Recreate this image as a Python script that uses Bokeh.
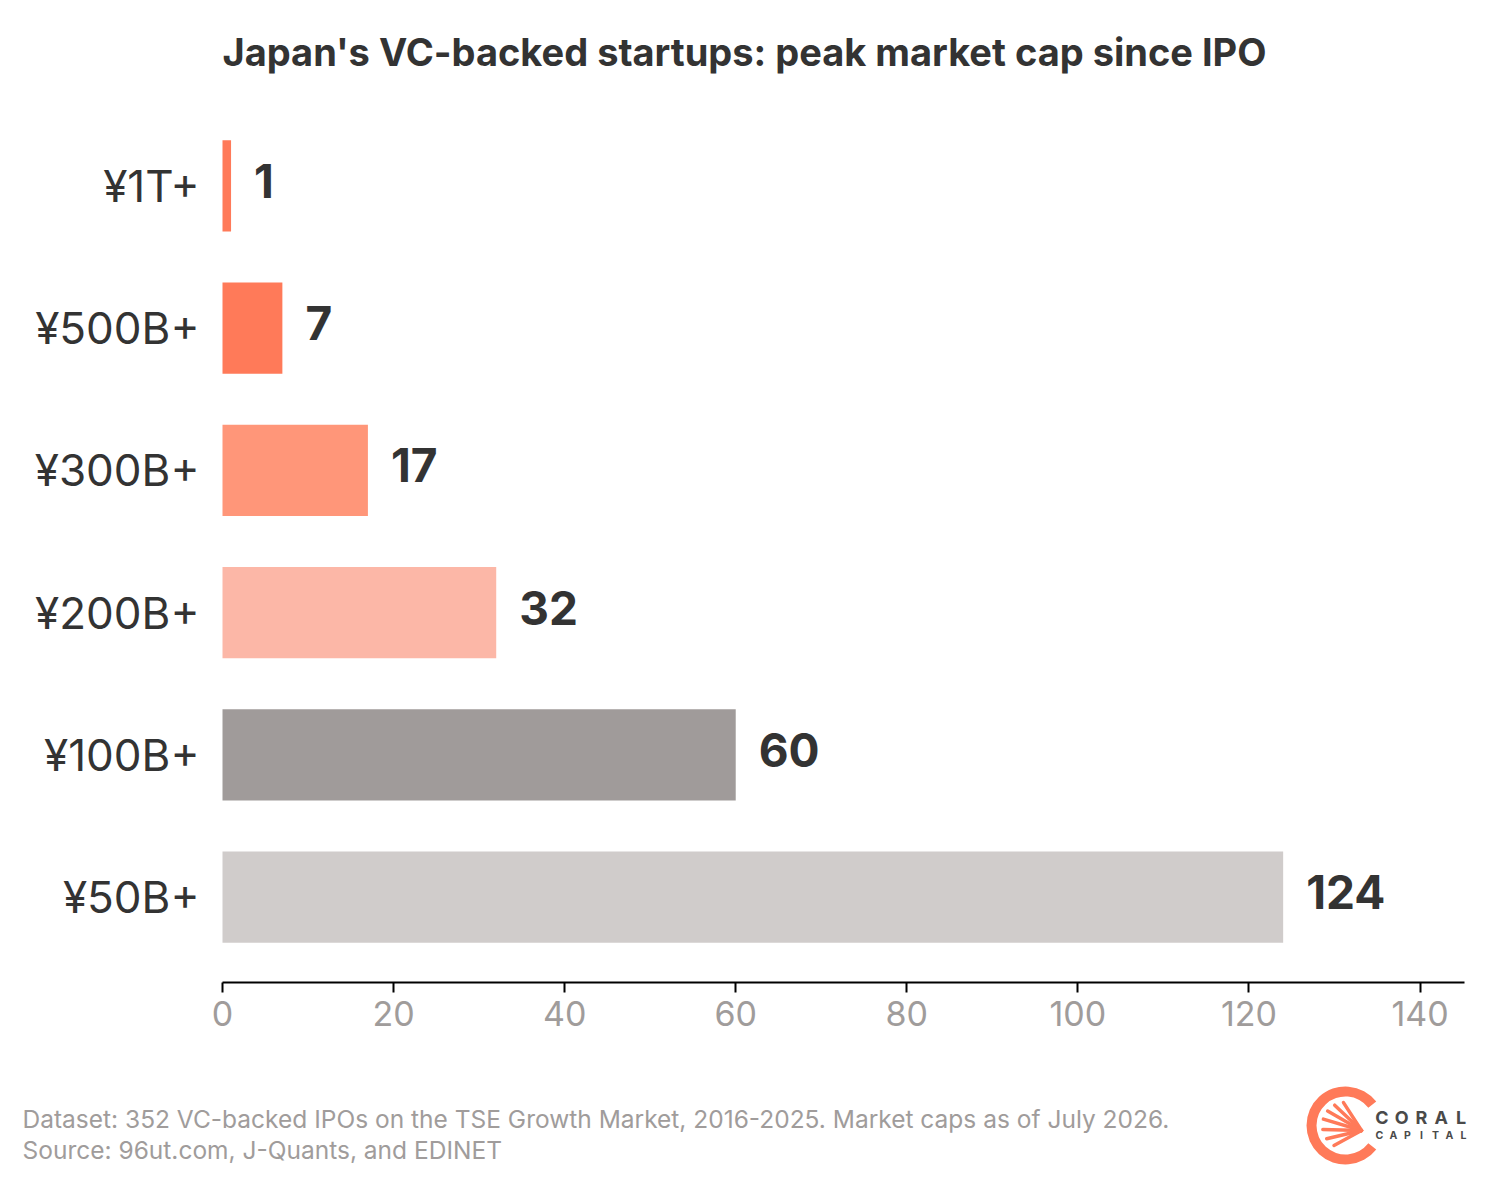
import numpy as np
from bokeh.plotting import figure
from bokeh.models import Range1d, FactorRange, FixedTicker, ColumnDataSource
from bokeh.layouts import column
from bokeh.core.properties import value
from bokeh.embed import file_html
from bokeh.resources import INLINE

# ---- data ----
categories = ["¥1T+", "¥500B+", "¥300B+", "¥200B+", "¥100B+", "¥50B+"]
counts = [1, 7, 17, 32, 60, 124]
bar_colors = ["#FF7A59", "#FF7A59", "#FF9679", "#FCB7A7", "#A09B9A", "#D0CCCB"]
x_ticks = [0, 20, 40, 60, 80, 100, 120, 140]
title_text = "Japan's VC-backed startups: peak market cap since IPO"
footer_lines = [
    "Dataset: 352 VC-backed IPOs on the TSE Growth Market, 2016-2025. Market caps as of July 2026.",
    "Source: 96ut.com, J-Quants, and EDINET",
]

FONT = "Inter"
W = 1488
MAIN_H = 1060
FOOT_H = 120
L, T, R, B = 222, 100, 1464, 982     # plot area edges (page pixels)
X_MAX = 145.2                        # data value at right end of axis line
PX_PER_UNIT = (R - L) / X_MAX

src = ColumnDataSource(dict(cat=categories, val=counts, color=bar_colors,
                            label=[str(c) for c in counts]))

p = figure(width=W, height=MAIN_H, output_backend="svg", toolbar_location=None,
           y_range=FactorRange(factors=list(reversed(categories)),
                               range_padding=0.1, range_padding_units="absolute"),
           x_range=Range1d(-L / PX_PER_UNIT, X_MAX + (W - R) / PX_PER_UNIT),
           y_axis_location=None,
           min_border_left=0, min_border_right=0, min_border_top=T,
           min_border_bottom=MAIN_H - B)
p.background_fill_color = "white"
p.border_fill_color = "white"
p.outline_line_color = None
p.grid.grid_line_color = None

p.hbar(y="cat", left=0, right="val", height=0.64, color="color",
       line_color=None, source=src)
# value labels
p.text(x="val", y="cat", text="label", source=src, x_offset=23, y_offset=-5,
       text_baseline="middle", text_align="left",
       text_font=value(FONT), text_font_style="bold",
       text_font_size="46px", text_color="#333333")
# category labels
p.text(x=0, y="cat", text="cat", source=src, x_offset=-23,
       text_baseline="middle", text_align="right",
       text_font=value(FONT), text_font_size="44px", text_color="#333333")

# title
p.title.text = title_text
p.title.text_font = FONT
p.title.text_font_size = "38px"
p.title.text_font_style = "bold"
p.title.text_color = "#333333"
p.title.align = "left"
p.title.offset = L
p.title.standoff = 52

# x axis
xa = p.xaxis[0]
xa.bounds = (0, X_MAX)
xa.ticker = FixedTicker(ticks=x_ticks)
xa.axis_line_color = "black"
xa.axis_line_width = 2
xa.major_tick_line_color = "black"
xa.major_tick_line_width = 2
xa.major_tick_out = 10
xa.major_tick_in = 0
xa.minor_tick_line_color = None
xa.major_label_text_font = FONT
xa.major_label_text_font_size = "34px"
xa.major_label_text_color = "#A09C9B"
xa.major_label_standoff = 8

# ---- footer: a pixel-mapped strip (x = page px, y = px above page bottom) ----
f = figure(width=W, height=FOOT_H, output_backend="svg", toolbar_location=None,
           x_range=Range1d(0, W), y_range=Range1d(0, FOOT_H),
           x_axis_location=None, y_axis_location=None,
           min_border_left=0, min_border_right=0, min_border_top=0,
           min_border_bottom=0)
f.grid.grid_line_color = None
f.outline_line_color = None
f.background_fill_color = "white"
f.border_fill_color = "white"

PAGE_BOTTOM = MAIN_H + FOOT_H


def fy(py):
    return PAGE_BOTTOM - py


f.text(x=[22, 22], y=[fy(1118), fy(1149)], text=footer_lines, text_font=value(FONT),
       text_font_size="24.5px", text_color="#A09C9B", text_baseline="alphabetic",
       text_align="left")

# logo
coral = "#FF7A59"
cx, cy = 1345, fy(1125)
f.annular_wedge(x=[cx], y=[cy], inner_radius=29, outer_radius=39,
                start_angle=np.deg2rad(38), end_angle=np.deg2rad(322),
                color=coral, line_color=None)
hub = (cx + 16, cy - 5)
angs = np.deg2rad([95, 118, 141, 164, 190, 215, 240])
f.multi_line(xs=[[hub[0], cx + 23 * np.cos(a)] for a in angs],
             ys=[[hub[1], cy + 23 * np.sin(a)] for a in angs],
             line_color=coral, line_width=3.5, line_cap="round")

f.text(x=[1381.5 + 19.75 * i for i in range(5)], y=[fy(1117)] * 5, text=list("CORAL"),
       text_font=value(FONT), text_font_style="bold", text_font_size="18px",
       text_color="#4A4A4A", text_align="center", text_baseline="alphabetic")
f.text(x=[1379 + 14 * i for i in range(7)], y=[fy(1135)] * 7, text=list("CAPITAL"),
       text_font=value(FONT), text_font_style="bold", text_font_size="10.5px",
       text_color="#4A4A4A", text_align="center", text_baseline="alphabetic")

layout = column(p, f, spacing=0)
open("out.html", "w").write(file_html(layout, INLINE))
